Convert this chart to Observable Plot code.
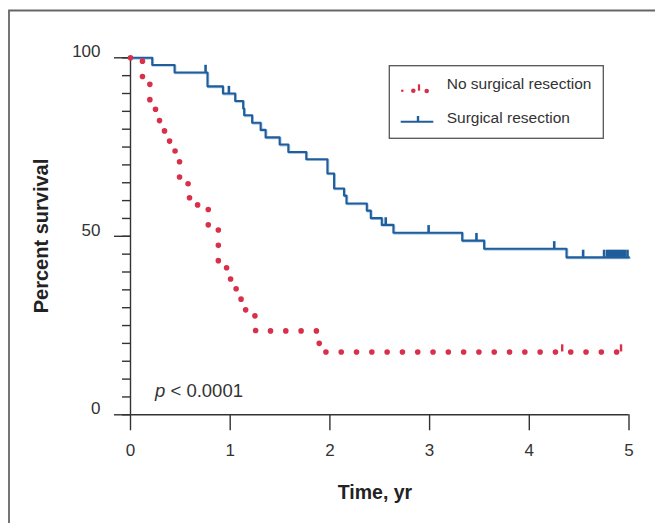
<!DOCTYPE html>
<html>
<head>
<meta charset="utf-8">
<script src="https://cdn.jsdelivr.net/npm/d3@7"></script>
<script src="https://cdn.jsdelivr.net/npm/@observablehq/plot@0.6"></script>
<style>
  html, body { margin: 0; padding: 0; background: #fff; }
  #chart { width: 655px; height: 523px; }
</style>
</head>
<body>
<div id="chart"></div>
<script>
// ---- Data ----
const surgTimes = [0, 0.218, 0.442, 0.772, 0.927, 1.05, 1.13, 1.14, 1.22, 1.305, 1.355, 1.496, 1.583, 1.763, 1.975, 2.042, 2.142, 2.166, 2.37, 2.41, 2.52, 2.637, 3.327, 3.547, 4.373, 5.0];
const surgSurv  = [100, 98.0, 95.9, 92.0, 90.0, 87.9, 85.8, 83.9, 81.8, 79.8, 77.7, 75.7, 73.6, 71.6, 67.6, 63.4, 61.4, 59.2, 57.2, 55.1, 53.2, 51.0, 48.8, 46.5, 44.1, 44.1];
const surgCensorTimes = [0.753, 0.987, 2.56, 2.99, 3.47, 4.25, 4.54, 4.75, 4.78, 4.80, 4.82, 4.84, 4.86, 4.88, 4.90, 4.92, 4.94, 4.96, 4.985];

const noSurgTimes = [0, 0.12, 0.194, 0.251, 0.291, 0.341, 0.392, 0.447, 0.492, 0.592, 0.78, 0.881, 0.984, 1.004, 1.094, 1.155, 1.248, 1.255, 1.893, 4.92];
const noSurgSurv  = [100, 94.1, 88.2, 85.3, 82.4, 79.4, 76.5, 73.5, 64.7, 58.8, 52.9, 41.2, 38.2, 35.3, 32.4, 29.4, 26.5, 23.5, 17.6, 17.6];
const noSurgCensorTimes = [4.33, 4.92];

const xTicks = [0, 1, 2, 3, 4, 5];
const yMajorTicks = [0, 50, 100];
const yMinorTicks = d3.range(0, 101, 5);

const seriesNames = ["No surgical resection", "Surgical resection"];
const xLabel = "Time, yr";
const yLabel = "Percent survival";

// ---- Derived tables ----
const surg = surgTimes.map((t, i) => ({t, s: surgSurv[i]}));
const noSurg = noSurgTimes.map((t, i) => ({t, s: noSurgSurv[i]}));
function survAt(data, t) {
  let s = data[0].s;
  for (const d of data) { if (d.t <= t) s = d.s; }
  return s;
}
const surgCensor = surgCensorTimes.map(t => ({t, s: survAt(surg, t)}));
const noSurgCensor = noSurgCensorTimes.map(t => ({t, s: survAt(noSurg, t)}));

const RED = "#d9304a";
const BLUE = "#1f5d9b";
const INK = "#333";

const plot = Plot.plot({
  width: 655,
  height: 523,
  marginLeft: 130,
  marginRight: 26.5,
  marginTop: 57.3,
  marginBottom: 108.7,
  x: {domain: [0, 5]},
  y: {domain: [0, 100]},
  style: {fontFamily: "'Liberation Sans', Arial, Helvetica, sans-serif", background: "#fff", color: INK},
  marks: [
    Plot.axisY(yMinorTicks, {tickSize: 8, tickFormat: () => "", stroke: INK, strokeWidth: 1.4, label: null}),
    Plot.axisY(yMajorTicks, {tickSize: 16, tickFormat: () => "", stroke: INK, strokeWidth: 1.4, label: null}),
    Plot.axisY(yMajorTicks, {tickSize: 0, tickPadding: 30, fontSize: 17, dy: -6, fill: INK, label: null}),
    Plot.axisX(xTicks, {tickSize: 16, tickPadding: 13, fontSize: 17, stroke: INK, strokeWidth: 1.4, fill: INK, label: null}),
    Plot.ruleX([0], {y1: 0, y2: 100, stroke: INK, strokeWidth: 1.4}),
    Plot.ruleY([0], {x1: 0, x2: 5, stroke: INK, strokeWidth: 1.4}),
    // blue survival curve (light halo + line)
    Plot.line(surg, {x: "t", y: "s", curve: "step-after", stroke: "#aacbe8", strokeWidth: 2.2, dx: 0.8, dy: 0.8}),
    Plot.line(surg, {x: "t", y: "s", curve: "step-after", stroke: BLUE, strokeWidth: 2.1}),
    Plot.ruleX(surgCensor, {x: "t", y1: "s", y2: d => d.s + 2, stroke: BLUE, strokeWidth: 2.6}),
    // red dotted curve
    Plot.line(noSurg, {x: "t", y: "s", curve: "step-after", stroke: RED, strokeWidth: 5.6, strokeDasharray: "0 15.3", strokeLinecap: "round"}),
    Plot.ruleX(noSurgCensor, {x: "t", y1: "s", y2: d => d.s + 2, stroke: RED, strokeWidth: 2.4})
  ]
});

document.getElementById("chart").appendChild(plot);

const svg = d3.select(plot);

// outer frame (left and top edges)
svg.append("path")
  .attr("d", "M9,523 V10.5 H655")
  .attr("fill", "none")
  .attr("stroke", "#666")
  .attr("stroke-width", 1.8);

// axis titles
svg.append("text")
  .attr("transform", "translate(48.3,236) rotate(-90)")
  .attr("text-anchor", "middle")
  .attr("font-size", 20)
  .attr("font-weight", "bold")
  .attr("fill", "#222")
  .text(yLabel);

svg.append("text")
  .attr("x", 375)
  .attr("y", 499)
  .attr("text-anchor", "middle")
  .attr("font-size", 19.5)
  .attr("font-weight", "bold")
  .attr("font-family", "'Liberation Sans Narrow', 'Liberation Sans', Arial, sans-serif")
  .attr("fill", "#222")
  .text(xLabel);

// p value
const pt = svg.append("text")
  .attr("x", 155)
  .attr("y", 396.7)
  .attr("text-anchor", "start")
  .attr("font-size", 18.5)
  .attr("fill", INK);
pt.append("tspan").attr("font-style", "italic").text("p");
pt.append("tspan").text(" < 0.0001");

// legend
const lg = svg.append("g").attr("text-anchor", "start");
lg.append("rect")
  .attr("x", 389.3).attr("y", 65.7)
  .attr("width", 214).attr("height", 72.6)
  .attr("fill", "#fff")
  .attr("stroke", "#555")
  .attr("stroke-width", 1.3);
lg.append("circle").attr("cx", 402.3).attr("cy", 90.7).attr("r", 1.3).attr("fill", RED);
lg.append("circle").attr("cx", 413.3).attr("cy", 90.7).attr("r", 2.3).attr("fill", RED);
lg.append("line").attr("x1", 419).attr("x2", 419).attr("y1", 84.3).attr("y2", 90.7).attr("stroke", RED).attr("stroke-width", 2.2);
lg.append("circle").attr("cx", 426.7).attr("cy", 91).attr("r", 2.3).attr("fill", RED);
lg.append("line").attr("x1", 400.7).attr("x2", 433.3).attr("y1", 121.7).attr("y2", 121.7).attr("stroke", BLUE).attr("stroke-width", 2);
lg.append("line").attr("x1", 418).attr("x2", 418).attr("y1", 116).attr("y2", 121.7).attr("stroke", BLUE).attr("stroke-width", 2.4);
lg.append("text").attr("x", 446.7).attr("y", 89.3).attr("font-size", 15.5).attr("fill", INK).text(seriesNames[0]);
lg.append("text").attr("x", 446.7).attr("y", 123.3).attr("font-size", 15.5).attr("fill", INK).text(seriesNames[1]);
</script>
</body>
</html>
